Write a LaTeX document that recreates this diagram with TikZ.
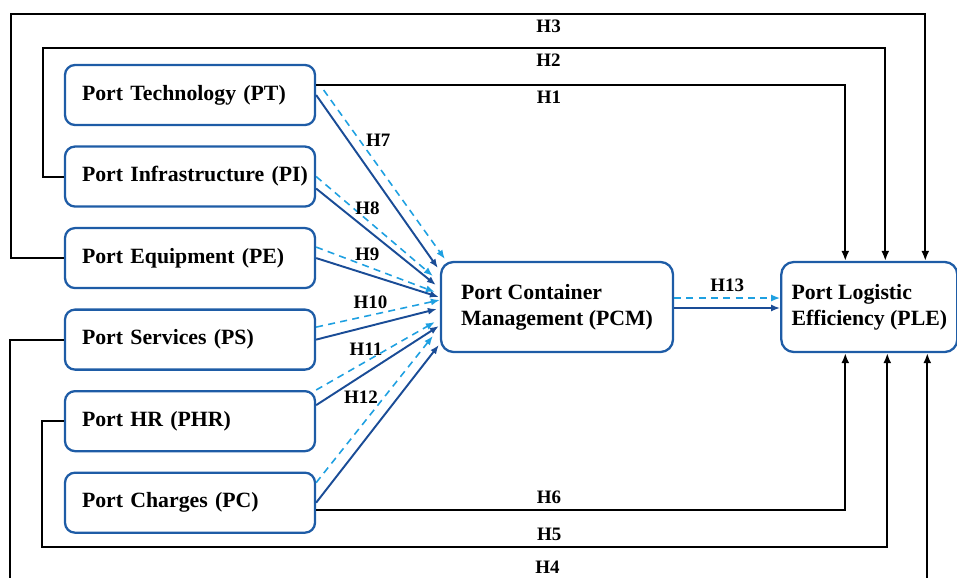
\documentclass[tikz,border=0pt]{standalone}
\usepackage{fontspec}
\setmainfont{Liberation Serif}
\usetikzlibrary{positioning}
\usetikzlibrary{arrows.meta}
\definecolor{boxblue}{RGB}{30,92,166}
\definecolor{pathblue}{RGB}{26,76,150}
\definecolor{medblue}{RGB}{30,160,225}

\begin{document}
\begin{tikzpicture}[node distance=0.385cm,
    factor/.style={draw=boxblue, line width=1.3pt, rounded corners=0.2cm, minimum height=1.2cm, text width=4.32cm, inner xsep=0.34cm, align=left, font=\fontsize{12.4}{14.8}\selectfont\bfseries},
    outcome/.style={draw=boxblue, line width=1.3pt, rounded corners=0.25cm, minimum height=1.8cm, align=left, font=\fontsize{12.4}{14.8}\selectfont\bfseries},
    direct/.style={draw=black, line width=1.1pt, -{Latex[length=2mm,width=1.6mm]}},
    solidmed/.style={draw=pathblue, line width=1.1pt, -{Latex[length=1.8mm,width=1.4mm]}},
    dashmed/.style={draw=medblue, line width=0.9pt, dash pattern=on 4pt off 3pt, -{Latex[length=1.8mm,width=1.4mm]}},
    hyp/.style={font=\fontsize{10.8}{12}\selectfont\bfseries, inner sep=3pt}]
    \useasboundingbox (0,0) rectangle (19.14,-11.54);
    \clip (0,0) rectangle (19.14,-11.54);
    \node[factor] (pt) at (3.8,-1.9) {Port Technology (PT)};
    \node[factor, below=of pt] (pi) {\mbox{Port Infrastructure (PI)}};
    \node[factor, below=of pi] (pe) {Port Equipment (PE)};
    \node[factor, below=of pe] (ps) {Port Services (PS)};
    \node[factor, below=of ps] (phr) {Port HR (PHR)};
    \node[factor, below=of phr] (pc) {Port Charges (PC)};
    \node[outcome, minimum width=4.64cm] (pcm) at (11.14,-6.14) {Port Container\\Management (PCM)};
    \node[outcome, minimum width=3.52cm, right=2.12cm of pcm] (ple) {Port Logistic\\Efficiency (PLE)};
    \coordinate (h2bend) at (0.86,-0.96);
    \coordinate (h3bend) at (0.22,-0.28);
    \coordinate (h4bend) at (0.2,-11.6);
    \coordinate (h5bend) at (0.84,-10.94);
    \path[direct] ([yshift=0.2cm]pt.east) -| node[hyp, below, pos=0.22]{H1} ([xshift=-0.48cm]ple.north);
    \path[direct] (pi.west) -| (h2bend) -| node[hyp, below, pos=0.3]{H2} ([xshift=0.32cm]ple.north);
    \path[direct] (pe.west) -| (h3bend) -| node[hyp, below, pos=0.294]{H3} ([xshift=1.12cm]ple.north);
    \path[direct] (ps.west) -| (h4bend) -| node[hyp, above, pos=0.293]{H4} ([xshift=1.16cm]ple.south);
    \path[direct] (phr.west) -| (h5bend) -| node[hyp, above, pos=0.3]{H5} ([xshift=0.36cm]ple.south);
    \path[direct] ([yshift=-0.14cm]pc.east) -| node[hyp, above, pos=0.22]{H6} ([xshift=-0.48cm]ple.south);
    \path[solidmed] (pt.east) -- ([shift={(-0.04,0.78)}]pcm.west);
    \path[dashmed] ([shift={(0.15,0.1)}]pt.east) -- node[hyp, right, pos=0.3]{H7} ([shift={(0.1,0.96)}]pcm.west);
    \path[solidmed] ([yshift=-0.24cm]pi.east) -- ([shift={(-0.08,0.44)}]pcm.west);
    \path[dashmed] (pi.east) -- node[hyp, above, pos=0.44]{H8} ([shift={(-0.14,0.62)}]pcm.west);
    \path[solidmed] (pe.east) -- ([shift={(-0.02,0.2)}]pcm.west);
    \path[dashmed] ([yshift=0.22cm]pe.east) -- node[hyp, above, pos=0.43]{H9} ([shift={(-0.1,0.3)}]pcm.west);
    \path[solidmed] (ps.east) -- ([shift={(-0.06,-0.04)}]pcm.west);
    \path[dashmed] ([yshift=0.25cm]ps.east) -- node[hyp, above, pos=0.44]{H10} ([shift={(0,0.14)}]pcm.west);
    \path[solidmed] ([yshift=0.32cm]phr.east) -- ([shift={(-0.02,-0.38)}]pcm.west);
    \path[dashmed] (phr.north east) -- node[hyp, above, pos=0.42]{H11} ([shift={(-0.1,-0.3)}]pcm.west);
    \path[solidmed] (pc.east) -- ([shift={(-0.02,-0.76)}]pcm.west);
    \path[dashmed] ([yshift=0.4cm]pc.east) -- node[hyp, left, pos=0.58]{H12} ([shift={(-0.14,-0.58)}]pcm.west);
    \path[solidmed] ([yshift=-0.02cm]pcm.east) -- ([yshift=-0.02cm]ple.west);
    \path[dashmed] ([yshift=0.18cm]pcm.east) -- node[hyp, above]{H13} ([yshift=0.18cm]ple.west);
\end{tikzpicture}
\end{document}
